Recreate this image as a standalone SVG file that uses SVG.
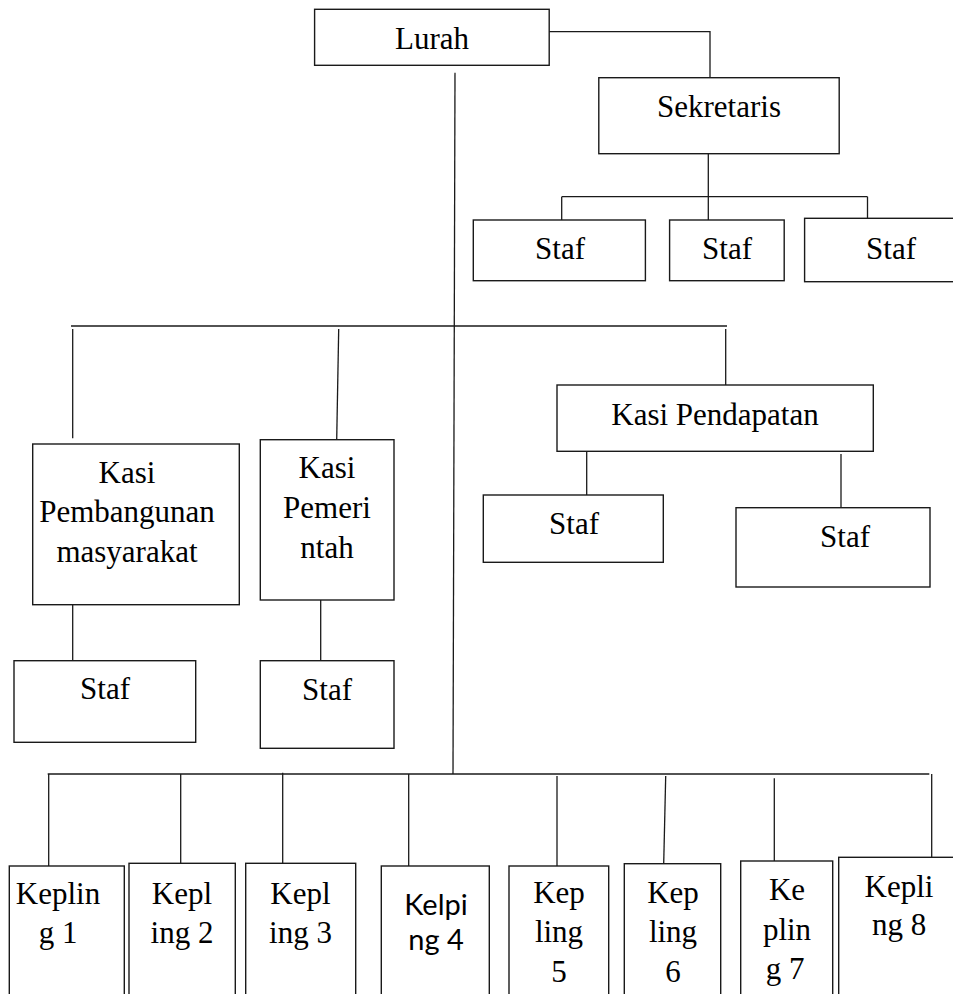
<svg xmlns="http://www.w3.org/2000/svg" width="953" height="994" viewBox="0 0 953 994">
<style>
.box{fill:#fff;stroke:#1a1a1a;stroke-width:1.4}
.t{font-family:"Liberation Serif","Times New Roman",serif;font-size:31px;text-anchor:middle;fill:#000}
.s{font-family:"Lato","Open Sans",sans-serif;font-size:29px;text-anchor:middle;fill:#000}
#connectors line,#connectors polyline{stroke:#1a1a1a;stroke-width:1.3;fill:none}
</style>
<rect width="953" height="994" fill="#fff"/>
<g id="connectors">
<polyline points="549,31.7 710,31.7 710,77.7"/>
<line x1="455" y1="72.7" x2="453" y2="774"/>
<line x1="708.3" y1="153.7" x2="708.3" y2="220"/>
<line x1="561.7" y1="196.7" x2="867.5" y2="196.7"/>
<line x1="561.7" y1="196.7" x2="561.7" y2="220"/>
<line x1="867.5" y1="196.7" x2="867.5" y2="218.3"/>
<line x1="71" y1="326" x2="727" y2="326"/>
<line x1="72.7" y1="329" x2="72.7" y2="438.3"/>
<line x1="338.7" y1="329" x2="336.7" y2="439.7"/>
<line x1="725.7" y1="329" x2="725.7" y2="385"/>
<line x1="586.7" y1="451.3" x2="586.7" y2="495"/>
<line x1="841" y1="454" x2="841" y2="507.7"/>
<line x1="72.7" y1="604.7" x2="72.7" y2="660.7"/>
<line x1="320.7" y1="600" x2="320.7" y2="660.7"/>
<line x1="47.7" y1="774" x2="929.3" y2="774"/>
<line x1="48.7" y1="774" x2="48.7" y2="866"/>
<line x1="180.7" y1="774" x2="180.7" y2="863.3"/>
<line x1="282.7" y1="772.7" x2="282.7" y2="863.3"/>
<line x1="408.7" y1="774" x2="408.7" y2="866"/>
<line x1="557" y1="776" x2="557" y2="866"/>
<line x1="665.7" y1="776" x2="663.7" y2="863.7"/>
<line x1="774.3" y1="778.3" x2="774.3" y2="861"/>
<line x1="931.7" y1="774" x2="931.7" y2="857.3"/>
</g>
<g id="lurah"><rect class="box" x="314.6" y="9.3" width="234.6" height="56"/><text class="t" x="432" y="49">Lurah</text></g>
<g id="sekretaris"><rect class="box" x="598.8" y="77.7" width="240.4" height="76"/><text class="t" x="719" y="116.7">Sekretaris</text></g>
<g id="staf-sek-1"><rect class="box" x="473.3" y="220" width="172.1" height="60.7"/><text class="t" x="560" y="259.3">Staf</text></g>
<g id="staf-sek-2"><rect class="box" x="669.6" y="220" width="114.6" height="60.7"/><text class="t" x="727" y="259.3">Staf</text></g>
<g id="staf-sek-3"><rect class="box" x="804.6" y="218.3" width="172" height="63.4"/><text class="t" x="891" y="259.3">Staf</text></g>
<g id="kasi-pembangunan"><rect class="box" x="32.7" y="444" width="206.6" height="160.7"/><text class="t" x="127"><tspan x="127" y="483.3">Kasi</tspan><tspan x="127" y="522.3">Pembangunan</tspan><tspan x="127" y="561.7">masyarakat</tspan></text></g>
<g id="staf-pembangunan"><rect class="box" x="14" y="660.7" width="181.7" height="81.6"/><text class="t" x="105" y="699.3">Staf</text></g>
<g id="kasi-pemerintah"><rect class="box" x="260.3" y="439.7" width="133.7" height="160.3"/><text class="t" x="327"><tspan x="327" y="478.3">Kasi</tspan><tspan x="327" y="518.3">Pemeri</tspan><tspan x="327" y="558.3">ntah</tspan></text></g>
<g id="staf-pemerintah"><rect class="box" x="260.3" y="660.7" width="133.7" height="87.6"/><text class="t" x="327" y="700">Staf</text></g>
<g id="kasi-pendapatan"><rect class="box" x="557" y="385" width="316.3" height="66.3"/><text class="t" x="715" y="425">Kasi Pendapatan</text></g>
<g id="staf-pendapatan-1"><rect class="box" x="483.3" y="495" width="180" height="67.3"/><text class="t" x="574" y="534">Staf</text></g>
<g id="staf-pendapatan-2"><rect class="box" x="736" y="507.7" width="194" height="79.3"/><text class="t" x="845" y="546.7">Staf</text></g>
<g id="kepling-1"><rect class="box" x="9.3" y="866" width="115" height="140"/><text class="t"><tspan x="58" y="904">Keplin</tspan><tspan x="58" y="943.3">g 1</tspan></text></g>
<g id="kepling-2"><rect class="box" x="129" y="863.3" width="106.3" height="140"/><text class="t"><tspan x="182" y="904">Kepl</tspan><tspan x="182" y="943.3">ing 2</tspan></text></g>
<g id="kepling-3"><rect class="box" x="245.7" y="863.3" width="110" height="140"/><text class="t"><tspan x="300.5" y="904">Kepl</tspan><tspan x="300.5" y="943.3">ing 3</tspan></text></g>
<g id="kepling-4"><rect class="box" x="381.3" y="866" width="108" height="140"/><text class="s"><tspan x="436" y="915">Kelpi</tspan><tspan x="436" y="950">ng 4</tspan></text></g>
<g id="kepling-5"><rect class="box" x="509" y="866" width="99.7" height="140"/><text class="t"><tspan x="559" y="903.3">Kep</tspan><tspan x="559" y="941.7">ling</tspan><tspan x="559" y="981.7">5</tspan></text></g>
<g id="kepling-6"><rect class="box" x="624.3" y="863.7" width="96.4" height="140"/><text class="t"><tspan x="673" y="903.3">Kep</tspan><tspan x="673" y="941.7">ling</tspan><tspan x="673" y="981.7">6</tspan></text></g>
<g id="kepling-7"><rect class="box" x="740.7" y="861" width="92" height="140"/><text class="t"><tspan x="787" y="900">Ke</tspan><tspan x="787" y="940">plin</tspan><tspan x="785" y="979">g 7</tspan></text></g>
<g id="kepling-8"><rect class="box" x="838.7" y="857.3" width="120" height="140"/><text class="t"><tspan x="899" y="896.7">Kepli</tspan><tspan x="899" y="935">ng 8</tspan></text></g>
</svg>
